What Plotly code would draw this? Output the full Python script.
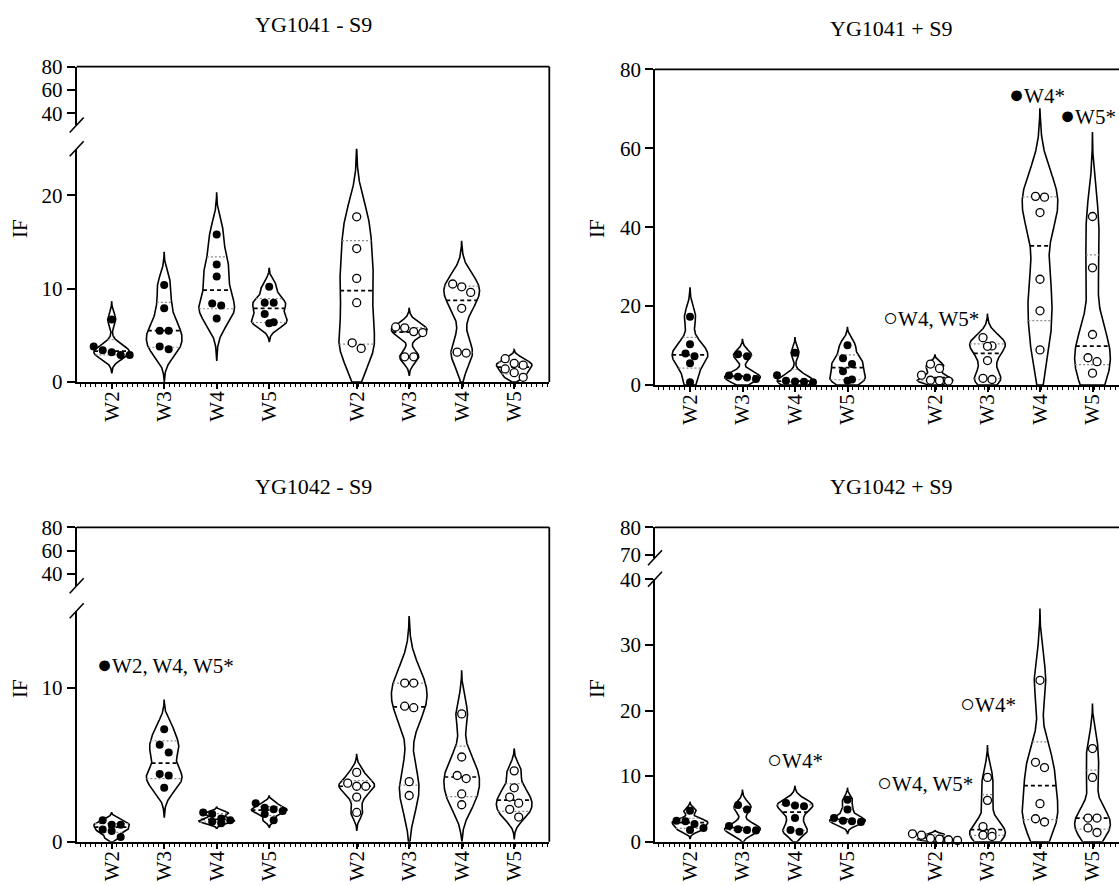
import numpy as np
import plotly.graph_objects as go

# ---------------------------------------------------------------- data
WEEKS = ["W2", "W3", "W4", "W5"]

# YG1041 - S9 : solid group / open group, one list per week (W2..W5)
yg1041_ms9_solid = [
    [6.7, 3.8, 3.4, 3.2, 2.9, 2.9],
    [10.4, 7.9, 5.5, 5.5, 3.8, 3.5],
    [15.8, 12.6, 11.3, 8.4, 8.2, 6.8],
    [10.2, 8.5, 8.5, 7.3, 6.4, 6.3],
]
yg1041_ms9_open = [
    [17.7, 14.3, 11.1, 8.5, 4.2, 3.6],
    [5.9, 5.8, 5.4, 5.3, 2.7, 2.7],
    [10.5, 10.2, 9.6, 7.9, 3.2, 3.1],
    [2.5, 2.0, 1.8, 1.4, 1.0, 0.5],
]
# YG1041 + S9
yg1041_ps9_solid = [
    [17.3, 10.3, 8.0, 7.3, 5.5, 0.7],
    [7.8, 7.3, 2.4, 2.1, 1.9, 1.5],
    [8.2, 2.5, 1.1, 0.9, 0.8, 0.7],
    [10.1, 6.8, 5.3, 3.5, 1.4, 1.1],
]
yg1041_ps9_open = [
    [5.3, 4.2, 2.5, 1.2, 1.1, 1.0],
    [12.0, 9.9, 9.8, 6.2, 1.7, 1.4],
    [47.8, 47.6, 43.7, 26.8, 18.8, 8.9],
    [42.7, 29.7, 12.8, 6.9, 5.9, 3.0],
]
# YG1042 - S9
yg1042_ms9_solid = [
    [1.4, 1.1, 1.1, 0.8, 0.7, 0.3],
    [7.3, 6.3, 5.8, 4.4, 4.3, 3.5],
    [1.9, 1.8, 1.5, 1.4, 1.3, 1.2],
    [2.5, 2.2, 2.1, 2.0, 1.8, 1.4],
]
yg1042_ms9_open = [
    [4.5, 3.8, 3.6, 3.6, 2.9, 1.9],
    [10.3, 10.3, 8.8, 8.7, 3.9, 3.0],
    [8.3, 5.5, 4.3, 4.1, 3.1, 2.4],
    [4.6, 3.5, 2.9, 2.5, 2.1, 1.6],
]
# YG1042 + S9
yg1042_ps9_solid = [
    [4.7, 3.2, 3.1, 2.7, 2.1, 1.8],
    [5.6, 4.9, 2.4, 1.9, 1.8, 1.7],
    [5.9, 5.5, 5.4, 3.6, 1.8, 1.5],
    [6.4, 4.9, 3.6, 3.2, 3.1, 3.0],
]
yg1042_ps9_open = [
    [1.2, 1.0, 0.5, 0.4, 0.3, 0.2],
    [9.8, 6.3, 2.3, 1.4, 1.0, 0.8],
    [24.6, 12.1, 11.3, 5.8, 3.5, 3.0],
    [14.2, 9.8, 3.6, 3.6, 2.1, 1.4],
]

# significance notes: (symbol, text, x, y, xanchor)
notes_yg1041_ps9 = [("\u25cf", "W4*", 6.6, 73.5, "center"),
                    ("\u25cf", "W5*", 8.15, 68.4, "right"),
                    ("\u25cb", "W4, W5*", 5.54, 17.0, "right")]
notes_yg1042_ms9 = [("\u25cf", "W2, W4, W5*", -0.32, 11.5, "left")]
notes_yg1042_ps9 = [("\u25cb", "W4*", 2.0, 12.5, "center"),
                    ("\u25cb", "W4*", 17 / 3, 21.1, "center"),
                    ("\u25cb", "W4, W5*", 5.42, 9.1, "right")]

# ---------------------------------------------------------------- style
FONT = "Liberation Serif"
FIG_W, FIG_H = 1119, 885
UNIT_PX = 52.5                      # pixels per category step
HALF_W = 0.34                       # max half width of a violin (x units)
DOT_STEP = 9.0 / UNIT_PX            # horizontal spacing of side-by-side dots
POS = [0, 1, 2, 3, 14 / 3, 17 / 3, 20 / 3, 23 / 3]
AX_LW = 1.8


def fx(p):
    return p / FIG_W


def fy(p):
    return 1 - p / FIG_H


panels = [
    dict(title="YG1041 - S9", solid=yg1041_ms9_solid, hollow=yg1041_ms9_open,
         notes=[], xid="x", xpx=(76.7, 549.3),
         lower=dict(id="y", px=(148.7, 382.0), rng=(0, 25), ticks=[0, 10, 20]),
         upper=dict(id="y2", px=(66.7, 125.0), rng=(30, 80), ticks=[40, 60, 80]),
         title_y=24, if_xy=(20, 229), right=True),
    dict(title="YG1041 + S9", solid=yg1041_ps9_solid, hollow=yg1041_ps9_open,
         notes=notes_yg1041_ps9, xid="x2", xpx=(655.0, 1119.0),
         lower=dict(id="y3", px=(69.3, 385.0), rng=(0, 80), ticks=[0, 20, 40, 60, 80]),
         upper=None, title_y=28, if_xy=(597, 229), right=False),
    dict(title="YG1042 - S9", solid=yg1042_ms9_solid, hollow=yg1042_ms9_open,
         notes=notes_yg1042_ms9, xid="x3", xpx=(76.7, 549.3),
         lower=dict(id="y4", px=(610.7, 841.7), rng=(0, 15), ticks=[0, 10]),
         upper=dict(id="y5", px=(527.3, 585.7), rng=(30, 80), ticks=[40, 60, 80]),
         title_y=486, if_xy=(20, 689), right=True),
    dict(title="YG1042 + S9", solid=yg1042_ps9_solid, hollow=yg1042_ps9_open,
         notes=notes_yg1042_ps9, xid="x4", xpx=(655.0, 1119.0),
         lower=dict(id="y6", px=(579.3, 841.7), rng=(0, 40), ticks=[0, 10, 20, 30, 40]),
         upper=dict(id="y7", px=(527.3, 557.8), rng=(69, 80), ticks=[70, 80]),
         title_y=486, if_xy=(597, 689), right=False),
]


def axis_key(aid):
    return ("xaxis" if aid[0] == "x" else "yaxis") + aid[1:]


def kde(vals):
    """Gaussian kernel density, tails extended by three bandwidths."""
    v = np.asarray(vals, float)
    h = 0.45 * v.std(ddof=1)
    grid = np.linspace(max(v.min() - 3 * h, 0.0), v.max() + 3 * h, 300)
    dens = np.exp(-0.5 * ((grid[:, None] - v[None, :]) / h) ** 2).sum(1)
    peak = dens.max()

    def width_at(y):
        d = np.exp(-0.5 * ((y - v) / h) ** 2).sum()
        return HALF_W * d / peak

    return grid, HALF_W * dens / peak, width_at


def dot_offsets(vals, px_per_unit, gap_px=8.5):
    """Spread dots that sit at nearly the same height side by side."""
    v = np.asarray(vals, float)
    rows = []
    for i in np.argsort(-v, kind="stable"):
        if rows and (v[rows[-1][0]] - v[i]) * px_per_unit < gap_px:
            rows[-1].append(i)
        else:
            rows.append([i])
    off = np.zeros(len(v))
    for r in rows:
        m = len(r)
        for k, i in enumerate(r):
            off[i] = (k - (m - 1) / 2) * DOT_STEP
    return off


fig = go.Figure()
layout = dict(template="none", width=FIG_W, height=FIG_H, autosize=False,
              margin=dict(l=0, r=0, t=0, b=0, pad=0),
              paper_bgcolor="white", plot_bgcolor="white",
              showlegend=False, font=dict(family=FONT, size=21, color="black"))
shapes, annotations = [], []

ytick_common = dict(showline=True, linecolor="black", linewidth=AX_LW,
                    ticks="outside", ticklen=8, tickwidth=AX_LW, tickcolor="black",
                    showgrid=False, zeroline=False, automargin=False,
                    tickfont=dict(family=FONT, size=21, color="black"))

for pn in panels:
    x0p, x1p = pn["xpx"]
    xr = (-2 / 3, -2 / 3 + (x1p - x0p) / UNIT_PX)
    low, up = pn["lower"], pn["upper"]
    ppu = (low["px"][1] - low["px"][0]) / (low["rng"][1] - low["rng"][0])
    minor_vals = [round(t, 2) for t in np.arange(-0.6, xr[1], 0.1)]

    layout[axis_key(pn["xid"])] = dict(
        domain=[fx(x0p), fx(x1p)], range=list(xr), anchor=low["id"],
        tickmode="array", tickvals=POS, ticktext=WEEKS * 2, tickangle=-90,
        showline=True, linecolor="black", linewidth=AX_LW,
        ticks="outside", ticklen=5, tickwidth=1.5, tickcolor="black",
        ticklabelstandoff=-6,
        minor=dict(tickmode="array", tickvals=minor_vals, ticklen=3,
                   tickwidth=1, tickcolor="black", ticks="outside"),
        showgrid=False, zeroline=False, automargin=False,
        tickfont=dict(family=FONT, size=21, color="black"))
    layout[axis_key(low["id"])] = dict(
        ytick_common, domain=[fy(low["px"][1]), fy(low["px"][0])],
        range=list(low["rng"]), anchor=pn["xid"],
        tickmode="array", tickvals=low["ticks"])
    top_px = low["px"][0]
    if up is not None:
        layout[axis_key(up["id"])] = dict(
            ytick_common, domain=[fy(up["px"][1]), fy(up["px"][0])],
            range=list(up["rng"]), anchor=pn["xid"],
            tickmode="array", tickvals=up["ticks"])
        # empty trace so the upper (broken) segment gets drawn
        fig.add_trace(go.Scatter(x=[], y=[], xaxis=pn["xid"], yaxis=up["id"],
                                 mode="markers", hoverinfo="skip"))
        top_px = up["px"][0]
        # break marks at the gap of the y axis
        for yc in (up["px"][1], low["px"][0]):
            shapes.append(dict(type="line", xref="paper", yref="paper",
                               x0=fx(x0p - 7), y0=fy(yc + 7.5),
                               x1=fx(x0p + 7), y1=fy(yc - 7.5),
                               line=dict(color="black", width=1.6)))
    # frame: top edge, right edge
    shapes.append(dict(type="line", xref="paper", yref="paper",
                       x0=fx(x0p), y0=fy(top_px), x1=fx(x1p), y1=fy(top_px),
                       line=dict(color="black", width=AX_LW)))
    if pn["right"]:
        shapes.append(dict(type="line", xref="paper", yref="paper",
                           x0=fx(x1p), y0=fy(top_px), x1=fx(x1p), y1=fy(low["px"][1]),
                           line=dict(color="black", width=AX_LW)))

    # violins
    groups = [(pn["solid"], True), (pn["hollow"], False)]
    k = 0
    for data, filled in groups:
        for vals in data:
            c = POS[k]
            k += 1
            grid, hw, width_at = kde(vals)
            xs = np.concatenate([c + hw, (c - hw)[::-1]])
            ys = np.concatenate([grid, grid[::-1]])
            fig.add_trace(go.Scatter(
                x=np.append(xs, xs[0]), y=np.append(ys, ys[0]),
                xaxis=pn["xid"], yaxis=low["id"], mode="lines",
                fill="toself", fillcolor="white",
                line=dict(color="black", width=1.6), hoverinfo="skip"))
            q1, med, q3 = np.percentile(vals, [25, 50, 75], method="weibull")
            qx, qy = [], []
            for q in (q1, q3):
                w = width_at(q)
                qx += [c - w, c + w, None]
                qy += [q, q, None]
            fig.add_trace(go.Scatter(
                x=qx, y=qy, xaxis=pn["xid"], yaxis=low["id"], mode="lines",
                line=dict(color="#8a8a8a", width=1.2, dash="2px,2px"),
                hoverinfo="skip"))
            w = width_at(med)
            fig.add_trace(go.Scatter(
                x=[c - w, c + w], y=[med, med], xaxis=pn["xid"], yaxis=low["id"],
                mode="lines", line=dict(color="black", width=1.7, dash="4px,3px"),
                hoverinfo="skip"))
            off = dot_offsets(vals, ppu)
            fig.add_trace(go.Scatter(
                x=c + off, y=vals, xaxis=pn["xid"], yaxis=low["id"],
                mode="markers", cliponaxis=False,
                marker=dict(size=8, color="black" if filled else "white",
                            line=dict(color="black", width=0 if filled else 1.3))))

    # titles and axis labels
    annotations.append(dict(text=pn["title"], xref="paper", yref="paper",
                            x=fx(x0p + 236.3), y=fy(pn["title_y"]),
                            xanchor="center", yanchor="middle", showarrow=False,
                            font=dict(family=FONT, size=22, color="black")))
    annotations.append(dict(text="IF", xref="paper", yref="paper",
                            x=fx(pn["if_xy"][0]), y=fy(pn["if_xy"][1]), textangle=-90,
                            xanchor="center", yanchor="middle", showarrow=False,
                            font=dict(family=FONT, size=21, color="black")))
    for sym, txt, nx, ny, anc in pn["notes"]:
        annotations.append(dict(
            text=f'<span style="font-size:25px">{sym}</span>{txt}',
            xref=pn["xid"], yref=low["id"], x=nx, y=ny, xanchor=anc,
            yanchor="middle", showarrow=False,
            font=dict(family=FONT, size=21, color="black")))

layout["shapes"] = shapes
layout["annotations"] = annotations
fig.update_layout(**layout)
fig.write_html("out.html", config={"displayModeBar": False})
